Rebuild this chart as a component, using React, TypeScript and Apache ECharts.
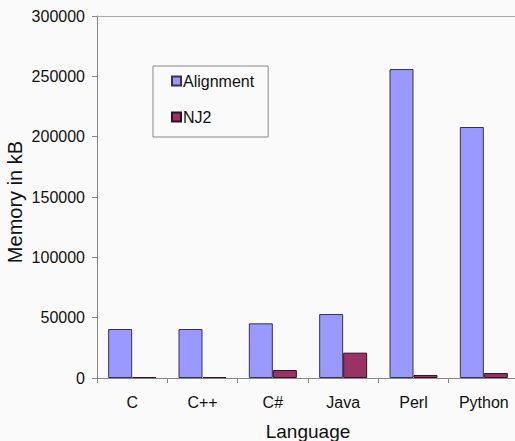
import React, { useEffect, useRef } from "react";
import * as echarts from "echarts";

const categories = ["C", "C++", "C#", "Java", "Perl", "Python"];
const alignment = [40600, 40600, 45300, 53000, 256000, 208000];
const nj2 = [800, 800, 6600, 21000, 2500, 4100];
const seriesNames = ["Alignment", "NJ2"];
const yMin = 0;
const yMax = 300000;
const yInterval = 50000;

const FONT = "'Liberation Sans', Arial, sans-serif";

export default function App() {
  const ref = useRef<HTMLDivElement>(null);
  useEffect(() => {
    document.body.style.margin = "0";
    const chart = echarts.init(ref.current!, null, { renderer: "svg" });
    chart.setOption({
      animation: false,
      backgroundColor: "#fafafa",
      textStyle: { fontFamily: FONT, color: "#111" },
      grid: {
        left: 97,
        top: 16,
        bottom: 63,
        right: -4,
        containLabel: false,
        outerBoundsMode: "none",
      },
      legend: {
        orient: "vertical",
        left: 153,
        top: 66,
        padding: [7, 14, 12, 18],
        itemGap: 20,
        itemWidth: 9,
        itemHeight: 9,
        icon: "rect",
        borderColor: "#888",
        borderWidth: 1,
        backgroundColor: "#fafafa",
        textStyle: { fontFamily: FONT, fontSize: 16, color: "#111", padding: [0, 0, 0, -3] },
        data: seriesNames,
      },
      xAxis: [
        {
          type: "category",
          data: categories,
          name: "Language",
          nameLocation: "middle",
          nameGap: 44,
          nameMoveOverlap: false,
          nameTextStyle: { fontFamily: FONT, fontSize: 19, color: "#111" },
          axisLine: { show: true, lineStyle: { color: "#888", width: 1 } },
          axisTick: { show: true, length: 5, lineStyle: { color: "#888" } },
          axisLabel: { fontFamily: FONT, fontSize: 16, color: "#111", margin: 16 },
          splitLine: { show: false },
        },
        {
          type: "category",
          position: "top",
          data: categories,
          axisLine: { show: true, lineStyle: { color: "#aaa", width: 1 } },
          axisTick: { show: false },
          axisLabel: { show: false },
          splitLine: { show: false },
        },
      ],
      yAxis: {
        type: "value",
        min: yMin,
        max: yMax,
        interval: yInterval,
        name: "Memory in kB",
        nameLocation: "middle",
        nameGap: 72,
        nameMoveOverlap: false,
        nameTextStyle: { fontFamily: FONT, fontSize: 20, color: "#111", padding: [0, 10, 0, 0] },
        axisLine: { show: true, lineStyle: { color: "#888", width: 1 } },
        axisTick: { show: true, length: 5, lineStyle: { color: "#888" } },
        axisLabel: {
          fontFamily: FONT,
          fontSize: 16,
          color: "#111",
          margin: 12,
          formatter: (v: number) => String(v),
        },
        splitLine: { show: false },
      },
      series: [
        {
          name: seriesNames[0],
          type: "bar",
          data: alignment,
          barWidth: 24,
          barGap: "0%",
          itemStyle: { color: "#9999ff", borderColor: "#333355", borderWidth: 1 },
        },
        {
          name: seriesNames[1],
          type: "bar",
          data: nj2,
          barWidth: 24,
          barGap: "0%",
          itemStyle: { color: "#993366", borderColor: "#331122", borderWidth: 1 },
        },
      ],
    });
    return () => chart.dispose();
  }, []);
  return (
    <div
      ref={ref}
      style={{ position: "absolute", left: 0, top: 0, width: 515, height: 441 }}
    />
  );
}
